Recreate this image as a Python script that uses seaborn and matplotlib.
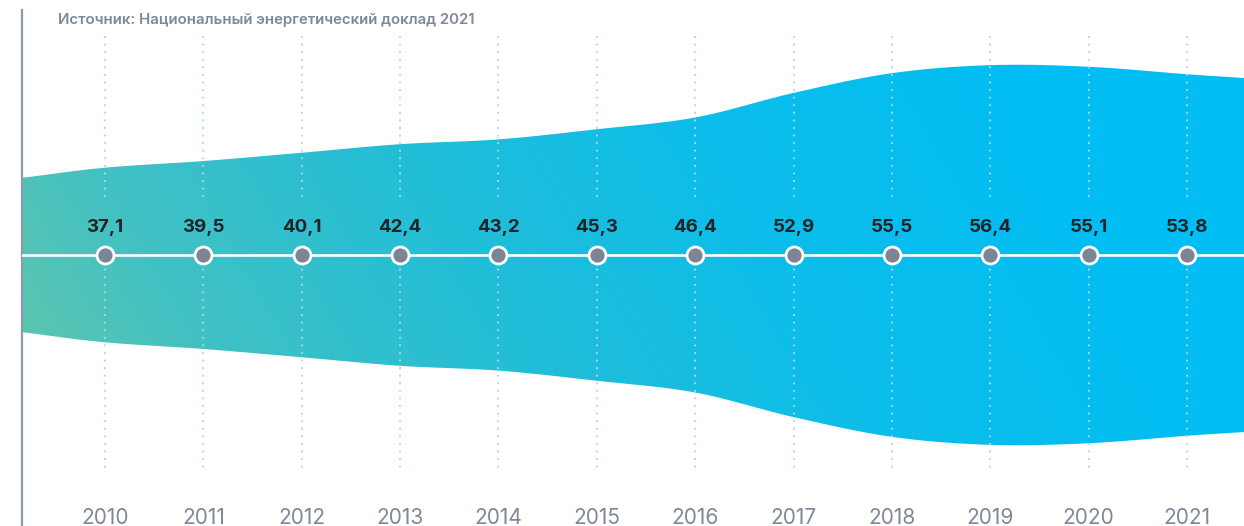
import numpy as np
import pandas as pd
import matplotlib
matplotlib.use("Agg")
import matplotlib.pyplot as plt
from matplotlib.colors import LinearSegmentedColormap
from matplotlib.patches import Polygon
import seaborn as sns

# ---------------- data ----------------
years = [2010, 2011, 2012, 2013, 2014, 2015, 2016, 2017, 2018, 2019, 2020, 2021]
values = [37.1, 39.5, 40.1, 42.4, 43.2, 45.3, 46.4, 52.9, 55.5, 56.4, 55.1, 53.8]
# smoothed envelope of the decorative band, incl. both edges
band_years = [2009.156, 2010, 2011, 2012, 2013, 2014, 2015, 2016, 2017, 2018, 2019, 2020, 2021, 2021.58]
band_values = [35.2, 37.1, 38.35, 39.9, 41.5, 42.4, 44.3, 46.5, 51.1, 54.8, 56.3, 56.0, 54.6, 53.9]
source_text = "Источник: Национальный энергетический доклад 2021"

BASE = 20.75  # value at which the band would collapse to zero width

df = pd.DataFrame({"year": years, "value": values, "center": [0.0] * len(years)})

# ---------------- figure ----------------
sns.set_theme(style="white")
plt.rcParams["font.family"] = ["Inter", "DejaVu Sans"]

W, H = 1244, 526
fig = plt.figure(figsize=(W / 100, H / 100), dpi=100)
ax_left, ax_top, ax_bottom = 22, 10, 526
ax = fig.add_axes([ax_left / W, (H - ax_bottom) / H, (W - ax_left) / W, (ax_bottom - ax_top) / H])

px_per_unit = 5.34
x0, x1 = band_years[0], band_years[-1]
y_top = (255 - ax_top) / px_per_unit
y_bot = -(ax_bottom - 255) / px_per_unit
ax.set_xlim(x0, x1)
ax.set_ylim(y_bot, y_top)


# smooth curve through envelope points (Catmull-Rom, for rendering only)
def catmull(xs, ys, n=40):
    xs = np.asarray(xs, float)
    ys = np.asarray(ys, float)
    P = np.column_stack([xs, ys])
    P = np.vstack([2 * P[0] - P[1], P, 2 * P[-1] - P[-2]])
    out = []
    for i in range(1, len(P) - 2):
        p0, p1, p2, p3 = P[i - 1], P[i], P[i + 1], P[i + 2]
        t = np.linspace(0, 1, n, endpoint=False)[:, None]
        pt = 0.5 * ((2 * p1) + (-p0 + p2) * t + (2 * p0 - 5 * p1 + 4 * p2 - p3) * t ** 2
                    + (-p0 + 3 * p1 - 3 * p2 + p3) * t ** 3)
        out.append(pt)
    out.append(P[-2][None, :])
    out = np.vstack(out)
    return out[:, 0], out[:, 1]


bx, bv = catmull(band_years, band_values)
half = bv - BASE
verts = np.vstack([np.column_stack([bx, half]), np.column_stack([bx[::-1], -half[::-1]])])
poly = Polygon(verts, closed=True, facecolor="none", edgecolor="none")
ax.add_patch(poly)

# diagonal gradient fill
cmap = LinearSegmentedColormap.from_list(
    "band", [(0.0, "#68c7a6"), (0.2, "#42c1c3"), (0.45, "#22bed7"), (0.7, "#0cbdea"), (1.0, "#00bef4")])
nx, ny = 700, 300
gx, gy = np.meshgrid(np.linspace(0, 1, nx), np.linspace(0, 1, ny))
wpx, hpx = W - ax_left, ax_bottom - ax_top
ang = np.deg2rad(30)
t = gx * wpx * np.cos(ang) + gy * hpx * np.sin(ang)
t = (t - t.min()) / (t.max() - t.min())
t = np.clip(t * 1.2 - 0.02, 0, 1)
im = ax.imshow(t, extent=[x0, x1, y_bot, y_top], origin="lower", cmap=cmap,
               aspect="auto", zorder=1, interpolation="bilinear")
im.set_clip_path(poly)

# dotted vertical guides (gap around the labels)
dot_kw = dict(color="#a9d9f0", lw=1.6, linestyle=(0, (0.01, 3.4)), dash_capstyle="round", zorder=2)
for yr in years:
    ax.plot([yr, yr], [(255 - 37) / px_per_unit, (255 - 200) / px_per_unit], **dot_kw)
    ax.plot([yr, yr], [-(262 - 255) / px_per_unit, -(472 - 255) / px_per_unit], **dot_kw)

# centre line
ax.axhline(0, color="white", lw=1.9, zorder=3)

# markers
sns.scatterplot(data=df, x="year", y="center", ax=ax, s=150, color="#7b8595",
                edgecolor="white", linewidth=2.0, zorder=4, legend=False)

# value labels
for yr, v in zip(years, values):
    ax.annotate(f"{v:.1f}".replace(".", ","), (yr, 0), xytext=(0, 19.5), textcoords="offset points",
                ha="center", va="center", fontsize=13.5, fontweight="bold", color="#212427", zorder=5)

# year labels
for yr in years:
    ax.text(yr, -(518 - 255) / px_per_unit, str(yr), ha="center", va="center",
            fontsize=15, color="#7d8899", zorder=5)

# source
fig.text(58 / W, 1 - 20 / H, source_text, ha="left", va="center", fontsize=10.8,
         fontweight="semibold", color="#7d8899")

ax.set_xlabel("")
ax.set_ylabel("")
ax.set_xticks([])
ax.set_yticks([])
for s in ["top", "right", "bottom"]:
    ax.spines[s].set_visible(False)
ax.spines["left"].set_color("#8d98a9")
ax.spines["left"].set_linewidth(1.6)
ax.patch.set_alpha(0)

fig.savefig("out.png", dpi=100)
